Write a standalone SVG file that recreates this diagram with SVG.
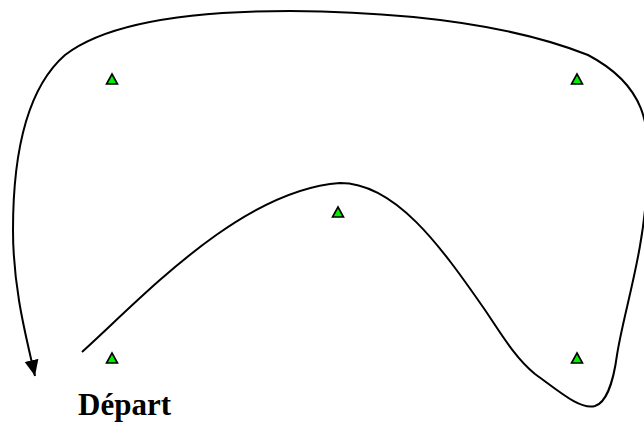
<svg xmlns="http://www.w3.org/2000/svg" width="644" height="425" viewBox="0 0 644 425">
<style>
.curve{fill:none;stroke:#000;stroke-width:2;stroke-linecap:butt;stroke-linejoin:round}
.pt{fill:#00f000;stroke:#000;stroke-width:1.6;stroke-linejoin:miter}
.lbl{font-family:"Liberation Serif","Times New Roman",serif;font-weight:bold;font-size:31px;fill:#000}
</style>
<defs>
<marker id="arrow" markerUnits="userSpaceOnUse" markerWidth="18" markerHeight="16" refX="16" refY="7" orient="auto">
<path d="M0,0 L16,7 L0,14 z" fill="#000"/>
</marker>
<polygon id="tri" points="0,0 5.5,10 -5.5,10"/>
</defs>
<rect width="644" height="425" fill="#fff"/>
<g id="connectors">
<path class="curve" marker-end="url(#arrow)" d="M82,352 C140,300 240,190 340,183 C395,183 440,245 485,310 C500,332 515,358 535,374 C560,392 580,410 595,406 C605,403 613,385 617,355 C624,310 645,250 647,180 C652,125 645,85 588,55 C520,28 420,12 290,11 C170,11 100,28 65,55 C25,90 13,160 13,230 C13,290 27,340 35,376"/>
</g>
<g id="p1"><use href="#tri" class="pt" x="112" y="74"/></g>
<g id="p2"><use href="#tri" class="pt" x="577" y="74"/></g>
<g id="p3"><use href="#tri" class="pt" x="338" y="207"/></g>
<g id="p4"><use href="#tri" class="pt" x="112" y="353"/></g>
<g id="p5"><use href="#tri" class="pt" x="577" y="353"/></g>
<g id="start"><text class="lbl" x="78" y="415">Départ</text></g>
</svg>
